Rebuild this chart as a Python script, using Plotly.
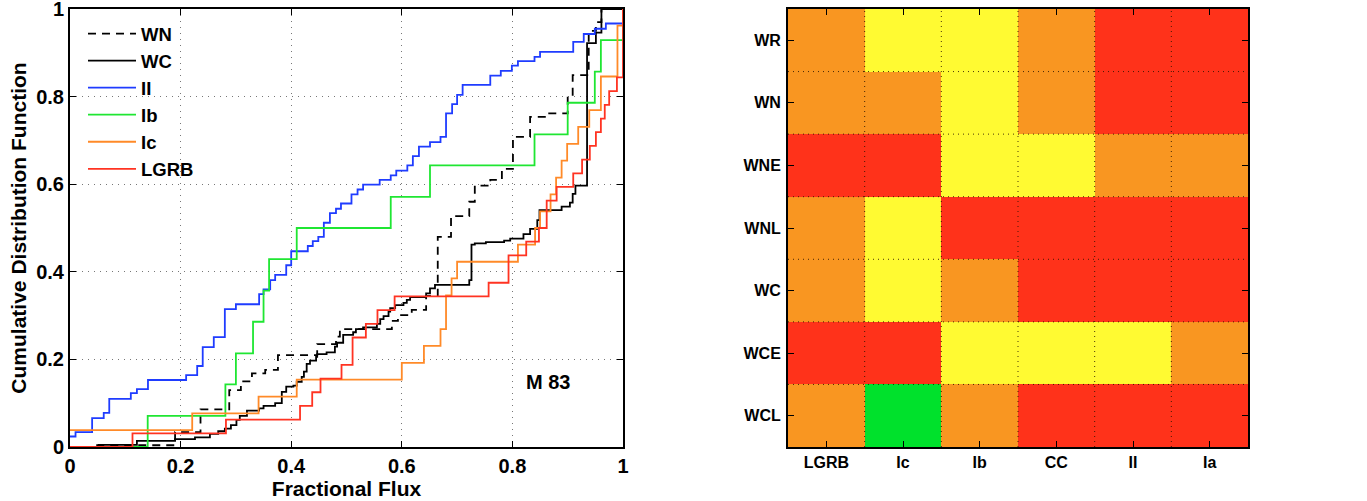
import plotly.graph_objects as go

# ---------------- Left panel: cumulative distributions (step CDFs) ----------------
WN_x = [0.0, 0.04, 0.19, 0.236, 0.288, 0.309, 0.329, 0.353, 0.376, 0.447, 0.481, 0.488, 0.582, 0.593,
        0.618, 0.644, 0.665, 0.689, 0.722, 0.732, 0.760, 0.781, 0.801, 0.832, 0.864, 0.900, 0.909,
        0.938, 0.951, 0.961, 1.0]
WN_y = [0.0, 0.004, 0.034, 0.086, 0.130, 0.150, 0.168, 0.176, 0.210, 0.235, 0.252, 0.269, 0.288, 0.301,
        0.313, 0.345, 0.480, 0.527, 0.560, 0.597, 0.610, 0.635, 0.708, 0.754, 0.762, 0.800, 0.849,
        0.950, 0.970, 1.000, 1.000]

WC_x = [0.0, 0.052, 0.121, 0.190, 0.226, 0.253, 0.268, 0.280, 0.291, 0.301, 0.307, 0.320, 0.342, 0.350,
        0.371, 0.383, 0.391, 0.404, 0.410, 0.419, 0.423, 0.428, 0.434, 0.445, 0.447, 0.464, 0.479,
        0.483, 0.494, 0.512, 0.517, 0.530, 0.555, 0.561, 0.567, 0.576, 0.579, 0.588, 0.603, 0.609,
        0.615, 0.644, 0.651, 0.660, 0.722, 0.726, 0.732, 0.752, 0.785, 0.796, 0.820, 0.832, 0.845,
        0.849, 0.889, 0.904, 0.909, 0.914, 0.935, 0.951, 0.961, 1.0]
WC_y = [0.0, 0.005, 0.014, 0.018, 0.022, 0.030, 0.036, 0.042, 0.050, 0.062, 0.071, 0.083, 0.088, 0.094,
        0.100, 0.126, 0.138, 0.140, 0.149, 0.160, 0.172, 0.190, 0.197, 0.206, 0.212, 0.216, 0.229,
        0.238, 0.256, 0.262, 0.269, 0.273, 0.281, 0.292, 0.299, 0.309, 0.317, 0.324, 0.329, 0.336,
        0.342, 0.351, 0.362, 0.370, 0.381, 0.462, 0.465, 0.468, 0.471, 0.476, 0.486, 0.498, 0.518,
        0.541, 0.549, 0.558, 0.578, 0.597, 0.922, 0.946, 1.000, 1.000]

II_x = [0.0, 0.010, 0.040, 0.061, 0.071, 0.110, 0.121, 0.141, 0.210, 0.230, 0.240, 0.260, 0.280, 0.300,
        0.342, 0.350, 0.362, 0.371, 0.391, 0.400, 0.430, 0.439, 0.449, 0.459, 0.470, 0.481, 0.490,
        0.509, 0.520, 0.530, 0.560, 0.580, 0.590, 0.610, 0.620, 0.631, 0.651, 0.670, 0.680, 0.691,
        0.700, 0.710, 0.760, 0.779, 0.799, 0.810, 0.840, 0.850, 0.910, 0.929, 0.949, 0.969, 1.0]
II_y = [0.024, 0.034, 0.066, 0.078, 0.110, 0.123, 0.132, 0.153, 0.164, 0.185, 0.228, 0.251, 0.315, 0.326,
        0.349, 0.360, 0.381, 0.393, 0.415, 0.447, 0.459, 0.470, 0.480, 0.512, 0.534, 0.544, 0.556,
        0.577, 0.588, 0.599, 0.610, 0.620, 0.631, 0.643, 0.664, 0.686, 0.696, 0.708, 0.762, 0.783,
        0.804, 0.827, 0.848, 0.859, 0.871, 0.881, 0.891, 0.902, 0.925, 0.943, 0.955, 0.967, 1.000]

Ib_x = [0.0, 0.1405, 0.281, 0.300, 0.331, 0.350, 0.360, 0.410, 0.580, 0.651, 0.840, 0.900, 0.949, 0.960, 1.0]
Ib_y = [0.0, 0.071, 0.143, 0.214, 0.286, 0.357, 0.429, 0.500, 0.571, 0.643, 0.714, 0.786, 0.857, 0.929, 1.0]

Ic_x = [0.0, 0.221, 0.341, 0.410, 0.600, 0.640, 0.670, 0.680, 0.690, 0.700, 0.810, 0.841, 0.850, 0.869,
        0.879, 0.889, 0.899, 0.919, 0.939, 0.960, 0.990, 1.0]
Ic_y = [0.0385, 0.077, 0.115, 0.154, 0.192, 0.231, 0.269, 0.346, 0.385, 0.423, 0.462, 0.500, 0.538,
        0.577, 0.615, 0.654, 0.692, 0.731, 0.769, 0.846, 0.962, 1.0]

LGRB_x = [0.0, 0.113, 0.282, 0.416, 0.438, 0.453, 0.491, 0.511, 0.535, 0.556, 0.587, 0.757, 0.793, 0.825,
          0.848, 0.862, 0.880, 0.910, 0.926, 0.940, 0.951, 0.960, 0.967, 0.975, 0.989, 1.0]
LGRB_y = [0.0, 0.031, 0.0625, 0.094, 0.125, 0.156, 0.1875, 0.250, 0.281, 0.3125, 0.344, 0.375, 0.4375,
          0.469, 0.500, 0.5625, 0.594, 0.625, 0.656, 0.6875, 0.719, 0.750, 0.781, 0.8125, 0.844, 1.0]

series_names = ["WN", "WC", "II", "Ib", "Ic", "LGRB"]
series_x = [WN_x, WC_x, II_x, Ib_x, Ic_x, LGRB_x]
series_y = [WN_y, WC_y, II_y, Ib_y, Ic_y, LGRB_y]
series_colors = ["#000000", "#000000", "#1F3CFF", "#1FE632", "#FF8A28", "#FF3322"]
series_dash = ["8px,6px", "solid", "solid", "solid", "solid", "solid"]

axis_ticks = [0, 0.2, 0.4, 0.6, 0.8, 1]

# ---------------- Right panel: significance matrix ----------------
hm_cols = ["LGRB", "Ic", "Ib", "CC", "II", "Ia"]
hm_rows = ["WR", "WN", "WNE", "WNL", "WC", "WCE", "WCL"]
# 0 = green, 1 = yellow, 2 = orange, 3 = red
hm_z = [
    [2, 1, 1, 2, 3, 3],
    [2, 2, 1, 2, 3, 3],
    [3, 3, 1, 1, 2, 2],
    [2, 1, 3, 3, 3, 3],
    [2, 1, 2, 3, 3, 3],
    [3, 3, 1, 1, 1, 2],
    [2, 0, 2, 3, 3, 3],
]
hm_colors = ["#00E12C", "#FFFA32", "#F99621", "#FF321A"]

BOLD = dict(family="Liberation Sans, Arial, sans-serif", weight="bold", color="black")

fig = go.Figure()

for name, xs, ys, col, dash in zip(series_names, series_x, series_y, series_colors, series_dash):
    fig.add_trace(go.Scatter(
        x=xs, y=ys, mode="lines", name=name, line_shape="hv",
        line=dict(color=col, width=1.8, dash=dash),
        xaxis="x", yaxis="y",
    ))

fig.add_trace(go.Heatmap(
    z=hm_z, x=hm_cols, y=hm_rows, xaxis="x2", yaxis="y2",
    zmin=0, zmax=len(hm_colors) - 1,
    colorscale=[[i / (len(hm_colors) - 1), c] for i, c in enumerate(hm_colors)],
    showscale=False, hoverinfo="skip", xgap=0, ygap=0,
))

# dotted cell boundaries on the matrix
shapes = []
for i in range(1, len(hm_cols)):
    shapes.append(dict(type="line", xref="x2", yref="y2 domain", x0=i - 0.5, x1=i - 0.5, y0=0, y1=1,
                       line=dict(color="rgba(40,20,0,0.85)", width=1, dash="1px,4px"), layer="above"))
for j in range(1, len(hm_rows)):
    shapes.append(dict(type="line", xref="x2 domain", yref="y2", x0=0, x1=1, y0=j - 0.5, y1=j - 0.5,
                       line=dict(color="rgba(40,20,0,0.85)", width=1, dash="1px,4px"), layer="above"))

X1 = [70 / 1367, 623 / 1367]
X2 = [788 / 1367, 1248 / 1367]
YD = [(501 - 447) / 501, (501 - 9) / 501]

common_axis = dict(showline=True, linecolor="black", linewidth=2, mirror="ticks",
                   ticks="inside", ticklen=6, tickwidth=1.2, tickcolor="black",
                   zeroline=False, automargin=False, ticklabeloverflow="allow")

fig.update_layout(
    width=1367, height=501,
    margin=dict(l=0, r=0, t=0, b=0),
    paper_bgcolor="white", plot_bgcolor="white",
    font=dict(**BOLD, size=20),
    shapes=shapes,
    xaxis=dict(domain=X1, range=[0, 1], tickvals=axis_ticks, anchor="y",
               showgrid=True, gridcolor="#777777", gridwidth=1, griddash="1px,5px",
               tickfont=dict(**BOLD, size=20),
               title=dict(text="Fractional Flux", font=dict(**BOLD, size=21), standoff=2),
               **common_axis),
    yaxis=dict(domain=YD, range=[0, 1.0001], tickvals=axis_ticks, anchor="x",
               showgrid=True, gridcolor="#777777", gridwidth=1, griddash="1px,5px",
               tickfont=dict(**BOLD, size=20),
               title=dict(text="Cumulative Distribution Function", font=dict(**BOLD, size=21), standoff=4),
               **common_axis),
    xaxis2=dict(domain=X2, anchor="y2", showgrid=False, range=[-0.5, len(hm_cols) - 0.5],
                tickfont=dict(**BOLD, size=16), **common_axis),
    yaxis2=dict(domain=YD, anchor="x2", showgrid=False, autorange=False,
                range=[len(hm_rows) - 0.5, -0.5], ticklabelstandoff=2,
                tickfont=dict(**BOLD, size=16), **common_axis),
    legend=dict(x=83 / 1367, y=(501 - 15) / 501, xanchor="left", yanchor="top",
                bgcolor="rgba(0,0,0,0)", borderwidth=0, itemwidth=48,
                font=dict(**BOLD, size=18.5), tracegroupgap=0),
    annotations=[dict(text="M 83", x=0.864, y=0.148, xref="x", yref="y", showarrow=False,
                      font=dict(**BOLD, size=20))],
)

fig.write_html("out.html", config={"displayModeBar": False},
               post_script="document.body.style.margin='0';document.body.style.overflow='hidden';")
